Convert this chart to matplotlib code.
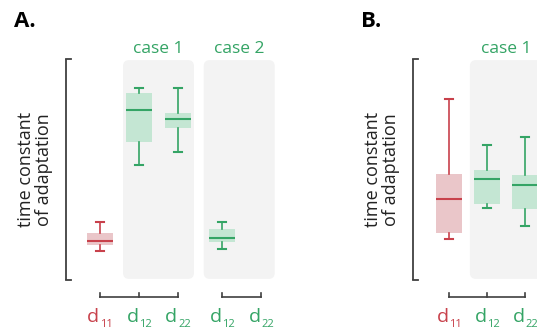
import matplotlib
matplotlib.use("Agg")
import matplotlib.pyplot as plt
from matplotlib.patches import FancyBboxPatch

plt.rcParams['font.family'] = ['Open Sans', 'DejaVu Sans']

RED = "#c8414b"
RED_FILL = "#eac6c9"
GREEN = "#34a465"
GREEN_FILL = "#c4e6d3"
SHADE = "#f3f3f3"
INK = "#404040"

# Panel A: d11 alone, case 1 (d12, d22), case 2 (d12, d22 - no data)
a_subs = ["11", "12", "22", "12", "22"]
a_pos = [0, 1, 2, 3.13, 4.13]
a_whislo = [1.31, 5.20, 5.79, 1.40]
a_q1 = [1.58, 6.24, 6.88, 1.72]
a_med = [1.76, 7.69, 7.29, 1.90]
a_q3 = [2.13, 8.46, 7.56, 2.31]
a_whishi = [2.62, 8.69, 8.69, 2.62]
a_cases = ["case 1", "case 2"]
a_case_spans = [(0.59, 2.41), (2.66, 4.48)]
a_brackets = [(0, 1, 2), (3.13, 4.13)]

# Panel B: d11 alone, case 1 (d12, d22)
b_subs = ["11", "12", "22"]
b_pos = [0, 1, 2]
b_whislo = [1.86, 3.26, 2.44]
b_q1 = [2.13, 3.44, 3.21]
b_med = [3.67, 4.57, 4.30]
b_q3 = [4.80, 4.98, 4.75]
b_whishi = [8.19, 6.11, 6.47]
b_cases = ["case 1"]
b_case_spans = [(0.55, 2.45)]
b_brackets = [(0, 1, 2)]


def draw_panel(ax, subs, pos, whislo, q1, med, q3, whishi, cases, spans, brackets, unit_px):
    ax.set_ylim(0, 10)
    ax.axis("off")
    y_px = 22.1  # pixels per y unit

    # shaded case regions with rounded corners
    for name, (x0, x1) in zip(cases, spans):
        rs = 6 / unit_px
        box = FancyBboxPatch((x0, 0.05), x1 - x0, 9.9,
                             boxstyle=f"round,pad=0,rounding_size={rs}",
                             mutation_aspect=(6 / y_px) / rs,
                             fc=SHADE, ec="none", zorder=0)
        ax.add_patch(box)
        ax.text((x0 + x1) / 2, 10.27, name, ha="center", va="baseline",
                color=GREEN, fontsize=12.5)

    # boxes
    for i in range(len(med)):
        color, fill = (RED, RED_FILL) if i == 0 else (GREEN, GREEN_FILL)
        stats = [dict(whislo=whislo[i], q1=q1[i], med=med[i], q3=q3[i],
                      whishi=whishi[i], fliers=[])]
        ax.bxp(stats, positions=[pos[i]], widths=26 / unit_px, patch_artist=True,
               showfliers=False, capwidths=8 / unit_px, manage_ticks=False,
               boxprops=dict(facecolor=fill, edgecolor="none"),
               whiskerprops=dict(color=color, lw=1.2),
               capprops=dict(color=color, lw=1.5),
               medianprops=dict(color=color, lw=1.5))

    # left bracket standing in for the y axis
    ax.plot([0, 0], [0, 1], transform=ax.transAxes, color=INK, lw=1.3,
            clip_on=False, solid_capstyle="butt")
    for yy in (0, 1):
        ax.plot([0, 5 / 224], [yy, yy], transform=ax.transAxes, color=INK,
                lw=1.3, clip_on=False, solid_capstyle="projecting")
    ax.text(-0.138, 0.5, "time constant\nof adaptation", transform=ax.transAxes,
            rotation=90, ha="center", va="center", multialignment="center",
            fontsize=13, linespacing=1.02, color="#222222")

    # brackets joining the conditions under each group
    yb = -17 / y_px
    yt = -13 / y_px
    for br in brackets:
        ax.plot([br[0], br[-1]], [yb, yb], color=INK, lw=1.2, clip_on=False)
        for x in br:
            ax.plot([x, x], [yb, yt], color=INK, lw=1.2, clip_on=False)

    # condition labels d_ij
    yl = -42 / y_px
    for i, (x, s) in enumerate(zip(pos, subs)):
        color = RED if i == 0 else GREEN
        ax.annotate("d", (x, yl), xytext=(-0.5, 0), textcoords="offset pixels",
                    ha="right", va="baseline", color=color, fontsize=14,
                    annotation_clip=False)
        ax.annotate(s, (x, yl), xytext=(0, -5), textcoords="offset pixels",
                    ha="left", va="baseline", color=color, fontsize=8,
                    annotation_clip=False)


W, H = 537, 331
fig = plt.figure(figsize=(W / 100, H / 100), dpi=100)

ax_a = fig.add_axes([66 / W, (H - 280) / H, 224 / W, 221 / H])
ax_a.set_xlim((66 - 100) / 39, (66 - 100) / 39 + 224 / 39)
draw_panel(ax_a, a_subs, a_pos, a_whislo, a_q1, a_med, a_q3, a_whishi,
           a_cases, a_case_spans, a_brackets, 39)

ax_b = fig.add_axes([413 / W, (H - 280) / H, 224 / W, 221 / H])
ax_b.set_xlim((413 - 449) / 38, (413 - 449) / 38 + 224 / 38)
draw_panel(ax_b, b_subs, b_pos, b_whislo, b_q1, b_med, b_q3, b_whishi,
           b_cases, b_case_spans, b_brackets, 38)

fig.text(14 / W, 1 - 27 / H, "A.", fontsize=16, fontweight="bold", va="baseline")
fig.text(361 / W, 1 - 27 / H, "B.", fontsize=16, fontweight="bold", va="baseline")

fig.savefig("out.png", dpi=100)
